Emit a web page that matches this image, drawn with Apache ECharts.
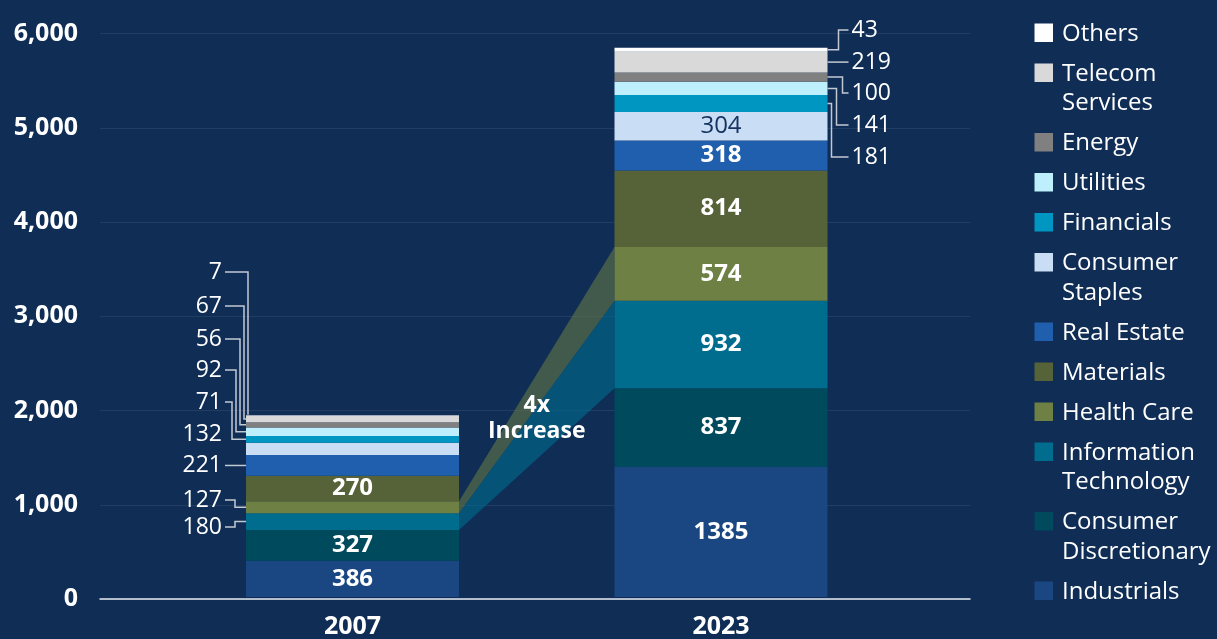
<!DOCTYPE html>
<html>
<head>
<meta charset="utf-8">
<title>Sector totals 2007 vs 2023</title>
<script src="https://cdn.jsdelivr.net/npm/echarts@6/dist/echarts.min.js"></script>
<style>
  html, body { margin: 0; padding: 0; background: #0f2d55; }
  #chart { width: 1217px; height: 639px; }
</style>
</head>
<body>
<div id="chart"></div>
<script>
// ---- data ----
const years = ['2007', '2023'];
// stacked bottom to top
const sectors = ['Industrials', 'Consumer Discretionary', 'Information Technology', 'Health Care',
  'Materials', 'Real Estate', 'Consumer Staples', 'Financials', 'Utilities', 'Energy',
  'Telecom Services', 'Others'];
const values2007 = [386, 327, 180, 127, 270, 221, 132, 71, 92, 56, 67, 7];
const values2023 = [1385, 837, 932, 574, 814, 318, 304, 181, 141, 100, 219, 43];
const totals = [1936, 5858];
const sectorColors = ['#1a4782', '#004a5e', '#006d8f', '#6e8043', '#566238', '#1f5fae',
  '#c9ddf5', '#0096c2', '#bdf0fc', '#808080', '#d9d9d9', '#ffffff'];
// legend text, top to bottom
const legendLabels = ['Others', 'Telecom\nServices', 'Energy', 'Utilities', 'Financials',
  'Consumer\nStaples', 'Real Estate', 'Materials', 'Health Care', 'Information\nTechnology',
  'Consumer\nDiscretionary', 'Industrials'];
// segments whose value is printed inside the bar
const inside2007 = ['Industrials', 'Consumer Discretionary', 'Materials'];
const inside2023 = ['Industrials', 'Consumer Discretionary', 'Information Technology', 'Health Care',
  'Materials', 'Real Estate', 'Consumer Staples'];
// segments joined by the growth bands
const bandSectors = ['Health Care', 'Information Technology'];
const growthNote = '4x\nIncrease';

// ---- layout ----
const FONT = '"Open Sans", "Noto Sans", sans-serif';
const BAR_WIDTH = 213;
const LINE_COLOR = '#c3c9d3';
// callouts left of the 2007 bar: label y, elbow offset from bar edge (null = straight / none)
const leftCallouts = [
  { sector: 'Others', y: 272, elbow: -2 },
  { sector: 'Telecom Services', y: 306, elbow: 2 },
  { sector: 'Energy', y: 339, elbow: 6 },
  { sector: 'Utilities', y: 370, elbow: 10 },
  { sector: 'Financials', y: 402, elbow: 14 },
  { sector: 'Consumer Staples', y: 434, elbow: null, noLine: true },
  { sector: 'Real Estate', y: null, elbow: null },
  { sector: 'Health Care', y: 500, elbow: 11 },
  { sector: 'Information Technology', y: 527, elbow: 11 }
];
// callouts right of the 2023 bar
const rightCallouts = [
  { sector: 'Others', y: 30, elbow: 11 },
  { sector: 'Telecom Services', y: null, elbow: null },
  { sector: 'Energy', y: 93, elbow: 15 },
  { sector: 'Utilities', y: 125, elbow: 9 },
  { sector: 'Financials', y: 157, elbow: 4 }
];

function cumulative(vals, idx) {
  let lo = 0;
  for (let k = 0; k < idx; k++) lo += vals[k];
  return [lo, lo + vals[idx]];
}

const barSeries = sectors.map((name, i) => {
  const isStaples = name === 'Consumer Staples';
  return {
    name: name,
    type: 'bar',
    stack: 'total',
    xAxisIndex: 1,
    yAxisIndex: 1,
    barWidth: BAR_WIDTH,
    z: 3,
    itemStyle: { color: sectorColors[i] },
    label: {
      show: true,
      position: 'inside',
      fontFamily: FONT,
      fontSize: 24,
      fontWeight: isStaples ? 'normal' : 'bold',
      color: isStaples ? '#163462' : '#ffffff',
      formatter: (p) => {
        const list = p.dataIndex === 0 ? inside2007 : inside2023;
        return list.indexOf(name) >= 0 ? String(p.value) : '';
      }
    },
    emphasis: { disabled: true },
    data: [values2007[i], values2023[i]]
  };
});

const bandData = bandSectors.map((name) => {
  const idx = sectors.indexOf(name);
  const a = cumulative(values2007, idx);
  const b = cumulative(values2023, idx);
  return [0, a[0], a[1], b[0], b[1], idx];
});

const bandSeries = {
  type: 'custom',
  xAxisIndex: 1,
  yAxisIndex: 1,
  z: 2,
  silent: true,
  encode: { x: 0, y: 1 },
  data: bandData,
  renderItem: (params, api) => {
    const half = BAR_WIDTH / 2;
    const p1 = api.coord([0, api.value(1)]);
    const p2 = api.coord([0, api.value(2)]);
    const p3 = api.coord([1, api.value(4)]);
    const p4 = api.coord([1, api.value(3)]);
    const idx = api.value(5);
    const isHealth = sectors[idx] === 'Health Care';
    return {
      type: 'polygon',
      shape: { points: [[p1[0] + half, p1[1]], [p2[0] + half, p2[1]], [p3[0] - half, p3[1]], [p4[0] - half, p4[1]]] },
      style: { fill: sectorColors[idx], opacity: isHealth ? 0.55 : 0.6 }
    };
  }
};

const totalSeries = {
  type: 'scatter',
  xAxisIndex: 1,
  yAxisIndex: 1,
  symbolSize: 1,
  itemStyle: { opacity: 0 },
  z: 4,
  silent: true,
  label: {
    show: true,
    position: 'top',
    distance: 7,
    fontFamily: FONT,
    fontSize: 25,
    fontWeight: 'bold',
    color: '#ffffff',
    formatter: (p) => p.value[1].toLocaleString('en-US')
  },
  data: totals.map((t, i) => [i, t])
};

const option = {
  backgroundColor: '#0f2d55',
  animation: false,
  textStyle: { fontFamily: FONT },
  grid: [
    { left: 100, right: 247, top: 33.5, bottom: 40 },
    { left: 168.25, right: 311.75, top: 33.5, bottom: 40 }
  ],
  xAxis: [
    {
      gridIndex: 0, type: 'value', min: 0, max: 1,
      axisLine: { show: true, lineStyle: { color: '#e6ebf2', width: 1.5 } },
      axisTick: { show: false }, axisLabel: { show: false }, splitLine: { show: false }
    },
    {
      gridIndex: 1, type: 'category', data: years,
      axisLine: { show: false }, axisTick: { show: false },
      axisLabel: { color: '#ffffff', fontFamily: FONT, fontSize: 25, fontWeight: 'bold', margin: 17 }
    }
  ],
  yAxis: [
    {
      gridIndex: 0, type: 'value', min: 0, max: 6000, interval: 1000,
      axisLine: { show: false }, axisTick: { show: false },
      axisLabel: {
        color: '#ffffff', fontFamily: FONT, fontSize: 25, fontWeight: 'bold', margin: 22,
        formatter: (v) => v.toLocaleString('en-US')
      },
      splitLine: { show: true, lineStyle: { color: 'rgba(255,255,255,0.08)', width: 1 } }
    },
    {
      gridIndex: 1, type: 'value', min: 0, max: 6000, interval: 1000, show: false
    }
  ],
  series: [bandSeries].concat(barSeries, [totalSeries])
};

const chart = echarts.init(document.getElementById('chart'));
chart.setOption(option);

// ---- callouts, growth note and legend ----
function toPx(cat, val) {
  return chart.convertToPixel({ xAxisIndex: 1, yAxisIndex: 1 }, [cat, val]);
}
function textEl(text, x, y, align, size, weight, vAlign) {
  return {
    type: 'text', z: 10, silent: true,
    style: {
      text: text, x: x, y: y,
      fill: '#ffffff',
      font: (weight || 'normal') + ' ' + size + 'px ' + FONT,
      fontFamily: FONT, fontSize: size, fontWeight: weight || 'normal',
      align: align, textAlign: align,
      verticalAlign: vAlign || 'middle', textVerticalAlign: vAlign || 'middle',
      lineHeight: 26
    }
  };
}
function lineEl(points) {
  return {
    type: 'polyline', z: 9, silent: true,
    shape: { points: points },
    style: { stroke: LINE_COLOR, lineWidth: 1.5, fill: null }
  };
}

const elements = [];
const c07 = toPx(0, 0)[0];
const c23 = toPx(1, 0)[0];
const left07 = c07 - BAR_WIDTH / 2;
const right07 = c07 + BAR_WIDTH / 2;
const left23 = c23 - BAR_WIDTH / 2;
const right23 = c23 + BAR_WIDTH / 2;

leftCallouts.forEach((c) => {
  const idx = sectors.indexOf(c.sector);
  const seg = cumulative(values2007, idx);
  const midY = toPx(0, (seg[0] + seg[1]) / 2)[1];
  const labelY = c.y === null ? midY : c.y;
  const labelX = left07 - 24;
  elements.push(textEl(String(values2007[idx]), labelX, labelY, 'right', 23));
  if (c.noLine) return;
  const sx = labelX + 3;
  if (c.elbow === null) {
    elements.push(lineEl([[sx, labelY], [left07, labelY]]));
  } else {
    const ex = left07 - c.elbow;
    // the thinnest top segment is reached at the bar's top edge
    const endY = c.sector === 'Others' ? toPx(0, seg[0])[1] - 1 : midY;
    const pts = [[sx, labelY], [ex, labelY], [ex, endY]];
    if (ex < left07) pts.push([left07, endY]);
    elements.push(lineEl(pts));
  }
});

rightCallouts.forEach((c) => {
  const idx = sectors.indexOf(c.sector);
  const seg = cumulative(values2023, idx);
  const midY = toPx(1, (seg[0] + seg[1]) / 2)[1];
  const labelY = c.y === null ? midY : c.y;
  const labelX = right23 + 24;
  elements.push(textEl(String(values2023[idx]), labelX, labelY, 'left', 23));
  const ex = labelX - 3;
  if (c.elbow === null) {
    elements.push(lineEl([[right23, labelY], [ex, labelY]]));
  } else {
    const bx = right23 + c.elbow;
    elements.push(lineEl([[right23, midY], [bx, midY], [bx, labelY], [ex, labelY]]));
  }
});

// growth note between the bars
const noteX = (right07 + left23) / 2;
elements.push(textEl(growthNote, noteX, 392, 'center', 23, 'bold', 'top'));

// legend, top to bottom (reverse of stacking order)
let rowCenter = 32.5;
legendLabels.forEach((label, k) => {
  const idx = sectors.length - 1 - k;
  elements.push({
    type: 'rect', z: 10, silent: true,
    shape: { x: 1034.5, y: rowCenter - 9, width: 18.5, height: 18.5 },
    style: { fill: sectorColors[idx] }
  });
  elements.push({
    type: 'text', z: 10, silent: true,
    style: {
      text: label, x: 1062, y: rowCenter - 14.75 + 1.5,
      fill: '#ffffff',
      font: 'normal 24px ' + FONT,
      fontFamily: FONT, fontSize: 24,
      align: 'left', textAlign: 'left',
      verticalAlign: 'top', textVerticalAlign: 'top',
      lineHeight: 29.5
    }
  });
  const lines = label.split('\n').length;
  rowCenter += 40 + (lines - 1) * 29.5;
});

chart.setOption({ graphic: { elements: elements } });
</script>
</body>
</html>
